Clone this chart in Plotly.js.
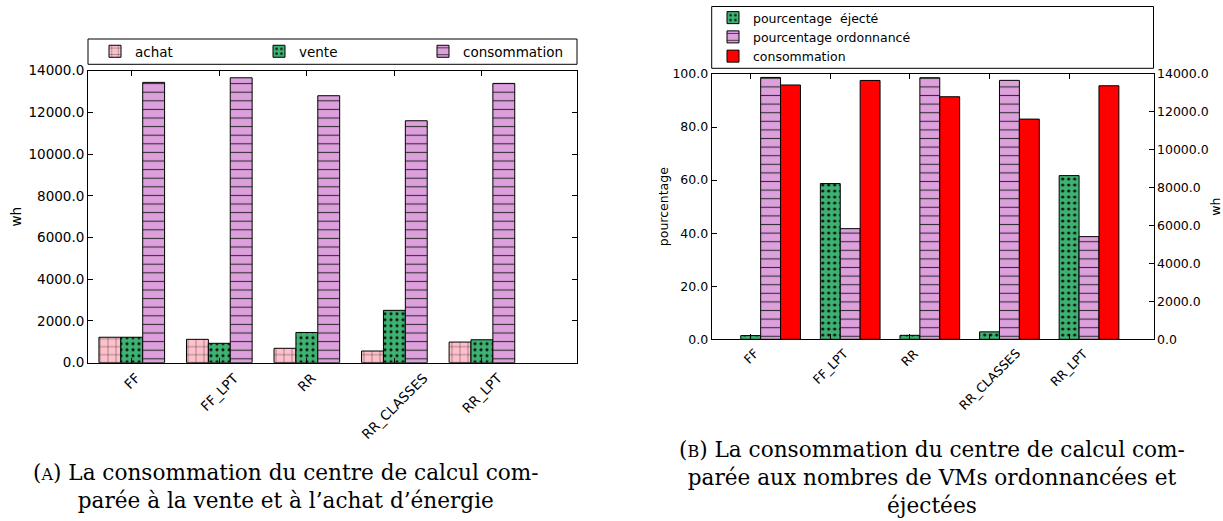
<!DOCTYPE html>
<html>
<head>
<meta charset="utf-8">
<script src="https://cdn.plot.ly/plotly-3.0.1.min.js"></script>
<style>html,body{margin:0;padding:0;background:#fff;}#chart{width:1223px;height:521px;}</style>
</head>
<body>
<div id="chart"></div>
<script>
// ---- data ----
const categories = ['FF', 'FF_LPT', 'RR', 'RR_CLASSES', 'RR_LPT'];
// chart A (wh)
const achat = [1220, 1120, 690, 560, 990];
const vente = [1220, 930, 1450, 2510, 1100];
const consommation = [13440, 13660, 12800, 11600, 13390];
// chart B
const pourcentageEjecte = [1.4, 58.7, 1.5, 2.8, 61.7];
const pourcentageOrdonnance = [98.7, 41.7, 98.6, 97.6, 38.7];
const consommationB = [13420, 13660, 12800, 11620, 13380];
// labels
const seriesNamesA = ['achat', 'vente', 'consommation'];
const seriesNamesB = ['pourcentage\u00a0 éjecté', 'pourcentage ordonnancé', 'consommation'];
const yTicksWh = [0, 2000, 4000, 6000, 8000, 10000, 12000, 14000];
const yTicksPct = [0, 20, 40, 60, 80, 100];
const captionA = '(<span style="font-size:16px">A</span>) La consommation du centre de calcul com-<br>parée à la vente et à l’achat d’énergie';
const captionB = '(<span style="font-size:16px">B</span>) La consommation du centre de calcul com-<br>parée aux nombres de VMs ordonnancées et<br>éjectées';

// ---- geometry helpers (pixel -> paper) ----
const W = 1223, H = 521;
const px = x => x / W;
const py = y => 1 - y / H;

const FONT = 'DejaVu Sans, sans-serif';
const SERIF = 'DejaVu Serif, serif';
const fA = 13.5, fB = 12.5;
const PINK = '#FFC0CB', GREEN = '#3CB371', PLUM = '#DDA0DD', RED = '#FF0000';
const outline = {color: '#000', width: 1};
const patGrid = {shape: '+', fgcolor: '#444', bgcolor: PINK, size: 8, solidity: 0.12};
const patStar = {shape: '.', fgcolor: '#111', bgcolor: GREEN, size: 6, solidity: 0.22};
const patLine = {shape: '-', fgcolor: '#333', bgcolor: PLUM, size: 8.6, solidity: 0.13};

const traces = [
  {type: 'bar', name: seriesNamesA[0], x: categories, y: achat, xaxis: 'x', yaxis: 'y',
   width: 0.25, offset: -0.375, legend: 'legend',
   marker: {color: PINK, line: outline, pattern: patGrid}},
  {type: 'bar', name: seriesNamesA[1], x: categories, y: vente, xaxis: 'x', yaxis: 'y',
   width: 0.25, offset: -0.125, legend: 'legend',
   marker: {color: GREEN, line: outline, pattern: patStar}},
  {type: 'bar', name: seriesNamesA[2], x: categories, y: consommation, xaxis: 'x', yaxis: 'y',
   width: 0.25, offset: 0.125, legend: 'legend',
   marker: {color: PLUM, line: outline, pattern: patLine}},

  {type: 'bar', name: seriesNamesB[0], x: categories, y: pourcentageEjecte, xaxis: 'x2', yaxis: 'y2',
   width: 0.25, offset: -0.125, legend: 'legend2',
   marker: {color: GREEN, line: outline, pattern: patStar}},
  {type: 'bar', name: seriesNamesB[1], x: categories, y: pourcentageOrdonnance, xaxis: 'x2', yaxis: 'y2',
   width: 0.25, offset: 0.125, legend: 'legend2',
   marker: {color: PLUM, line: outline, pattern: patLine}},
  {type: 'bar', name: seriesNamesB[2], x: categories, y: consommationB, xaxis: 'x2', yaxis: 'y3',
   width: 0.25, offset: 0.375, legend: 'legend2',
   marker: {color: RED, line: outline}}
];

const axBase = {showline: true, linecolor: '#000', linewidth: 1, ticks: 'inside', ticklen: 5,
  tickcolor: '#000', showgrid: false, zeroline: false, fixedrange: true};

const xLabelAnn = (xref, fs, shift) => categories.map(c => ({
  xref: xref, yref: (xref === 'x' ? 'y' : 'y2') + ' domain', x: c, y: 0, yshift: shift,
  text: c, textangle: -45, xanchor: 'center', yanchor: 'top', showarrow: false,
  font: {family: FONT, size: fs, color: '#000'}
}));

const layout = {
  width: W, height: H, margin: {l: 0, r: 0, t: 0, b: 0}, paper_bgcolor: '#fff', plot_bgcolor: '#fff',
  barmode: 'overlay', showlegend: true,
  font: {family: FONT, color: '#000'},
  xaxis: Object.assign({}, axBase, {domain: [px(88), px(577)], anchor: 'y', type: 'category',
    range: [-0.5, 5.086], mirror: 'ticks', showticklabels: false}),
  yaxis: Object.assign({}, axBase, {domain: [py(362.7), py(70.7)], anchor: 'x', range: [0, 14000],
    tickvals: yTicksWh, tickformat: '.1f', mirror: 'ticks', tickfont: {family: FONT, size: fA},
    title: {text: 'wh', font: {family: FONT, size: fA}, standoff: 3}}),
  xaxis2: Object.assign({}, axBase, {domain: [px(711.7), px(1153.5)], anchor: 'y2', type: 'category',
    range: [-0.49, 5.06], mirror: 'ticks', showticklabels: false}),
  yaxis2: Object.assign({}, axBase, {domain: [py(339.3), py(74)], anchor: 'x2', range: [0, 100],
    tickvals: yTicksPct, tickformat: '.1f', mirror: true, tickfont: {family: FONT, size: fB},
    title: {text: 'pourcentage', font: {family: FONT, size: fB}, standoff: 1}}),
  yaxis3: Object.assign({}, axBase, {overlaying: 'y2', side: 'right', anchor: 'x2', range: [0, 14000],
    tickvals: yTicksWh, tickformat: '.1f', tickfont: {family: FONT, size: fB},
    title: {text: 'wh', font: {family: FONT, size: fB}, standoff: 10}}),
  legend: {orientation: 'h', x: px(95), y: py(36), xanchor: 'left', yanchor: 'top',
    bgcolor: 'rgba(0,0,0,0)', borderwidth: 0, entrywidth: 119, entrywidthmode: 'pixels',
    font: {family: FONT, size: fA, color: '#000'}, traceorder: 'normal'},
  legend2: {orientation: 'v', x: px(713), y: py(3), xanchor: 'left', yanchor: 'top',
    bgcolor: 'rgba(0,0,0,0)', borderwidth: 0,
    font: {family: FONT, size: fB, color: '#000'}, traceorder: 'normal'},
  shapes: [
    {type: 'rect', xref: 'paper', yref: 'paper', x0: px(88), x1: px(577), y0: py(64.3), y1: py(39),
     line: {color: '#000', width: 1}, fillcolor: 'rgba(0,0,0,0)'},
    {type: 'rect', xref: 'paper', yref: 'paper', x0: px(711.7), x1: px(1153.5), y0: py(68.3), y1: py(6.5),
     line: {color: '#000', width: 1}, fillcolor: 'rgba(0,0,0,0)'}
  ],
  annotations: xLabelAnn('x', fA, -4).concat(xLabelAnn('x2', fB, -4)).concat([
    {xref: 'paper', yref: 'paper', x: px(286), y: py(486), xanchor: 'center', yanchor: 'middle',
     text: captionA, showarrow: false, align: 'center',
     font: {family: SERIF, size: 21.6, color: '#000'}},
    {xref: 'paper', yref: 'paper', x: px(932), y: py(477), xanchor: 'center', yanchor: 'middle',
     text: captionB, showarrow: false, align: 'center',
     font: {family: SERIF, size: 21.6, color: '#000'}}
  ])
};

Plotly.newPlot('chart', traces, layout, {staticPlot: true, displayModeBar: false});
</script>
</body>
</html>
